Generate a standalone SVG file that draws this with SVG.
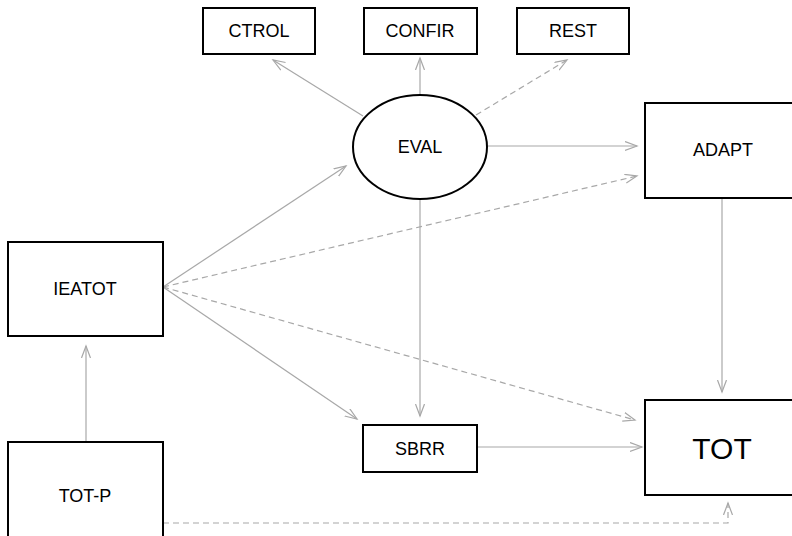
<svg xmlns="http://www.w3.org/2000/svg" width="792" height="536" viewBox="0 0 792 536">
<defs>
<style>
.box{fill:#fff;stroke:#000;stroke-width:2}
.lbl{font-family:"Liberation Sans",Arial,sans-serif;font-size:18px;fill:#000;text-anchor:middle;dominant-baseline:central}
.big{font-size:30px}
.c{fill:none;stroke:#a8a8a8;stroke-width:1.2}
.d{stroke-dasharray:6,4}
</style>
<marker id="ah" markerUnits="userSpaceOnUse" markerWidth="14" markerHeight="12" refX="12" refY="5" orient="auto">
<path d="M0,0.5 L12,5 L0,9.5" fill="none" stroke="#a8a8a8" stroke-width="1.2"/>
</marker>
</defs>
<rect width="792" height="536" fill="#fff"/>
<g id="connectors">
<line class="c" x1="363" y1="116" x2="273" y2="60" marker-end="url(#ah)"/>
<line class="c" x1="420" y1="95" x2="420" y2="58" marker-end="url(#ah)"/>
<line class="c d" x1="476" y1="115" x2="567" y2="60" marker-end="url(#ah)"/>
<line class="c" x1="488" y1="146" x2="637" y2="146" marker-end="url(#ah)"/>
<line class="c" x1="420" y1="199" x2="420" y2="416" marker-end="url(#ah)"/>
<line class="c" x1="163" y1="287" x2="346" y2="166" marker-end="url(#ah)"/>
<line class="c d" x1="163" y1="287" x2="637" y2="176" marker-end="url(#ah)"/>
<line class="c d" x1="163" y1="287" x2="635" y2="420" marker-end="url(#ah)"/>
<line class="c" x1="163" y1="287" x2="357" y2="419" marker-end="url(#ah)"/>
<line class="c" x1="477" y1="447" x2="642" y2="447" marker-end="url(#ah)"/>
<line class="c" x1="722" y1="198" x2="722" y2="392" marker-end="url(#ah)"/>
<line class="c" x1="86" y1="442" x2="86" y2="346" marker-end="url(#ah)"/>
<path class="c d" d="M163,523 L728,523 L728,503" marker-end="url(#ah)"/>
</g>
<g id="CTROL"><rect class="box" x="203" y="8" width="112" height="46"/><text class="lbl" x="259" y="31">CTROL</text></g>
<g id="CONFIR"><rect class="box" x="364" y="8" width="113" height="46"/><text class="lbl" x="420" y="31">CONFIR</text></g>
<g id="REST"><rect class="box" x="517" y="8" width="112" height="46"/><text class="lbl" x="573" y="31">REST</text></g>
<g id="EVAL"><ellipse class="box" cx="420" cy="147" rx="67" ry="52"/><text class="lbl" x="420" y="147">EVAL</text></g>
<g id="ADAPT"><rect class="box" x="645" y="103" width="155" height="95"/><text class="lbl" x="723" y="150">ADAPT</text></g>
<g id="IEATOT"><rect class="box" x="8" y="242" width="155" height="94"/><text class="lbl" x="85" y="289">IEATOT</text></g>
<g id="SBRR"><rect class="box" x="363" y="425" width="114" height="47"/><text class="lbl" x="420" y="449">SBRR</text></g>
<g id="TOT"><rect class="box" x="645" y="400" width="155" height="95"/><text class="lbl big" x="722" y="448">TOT</text></g>
<g id="TOT-P"><rect class="box" x="8" y="442" width="155" height="108"/><text class="lbl" x="85" y="496">TOT-P</text></g>
</svg>
